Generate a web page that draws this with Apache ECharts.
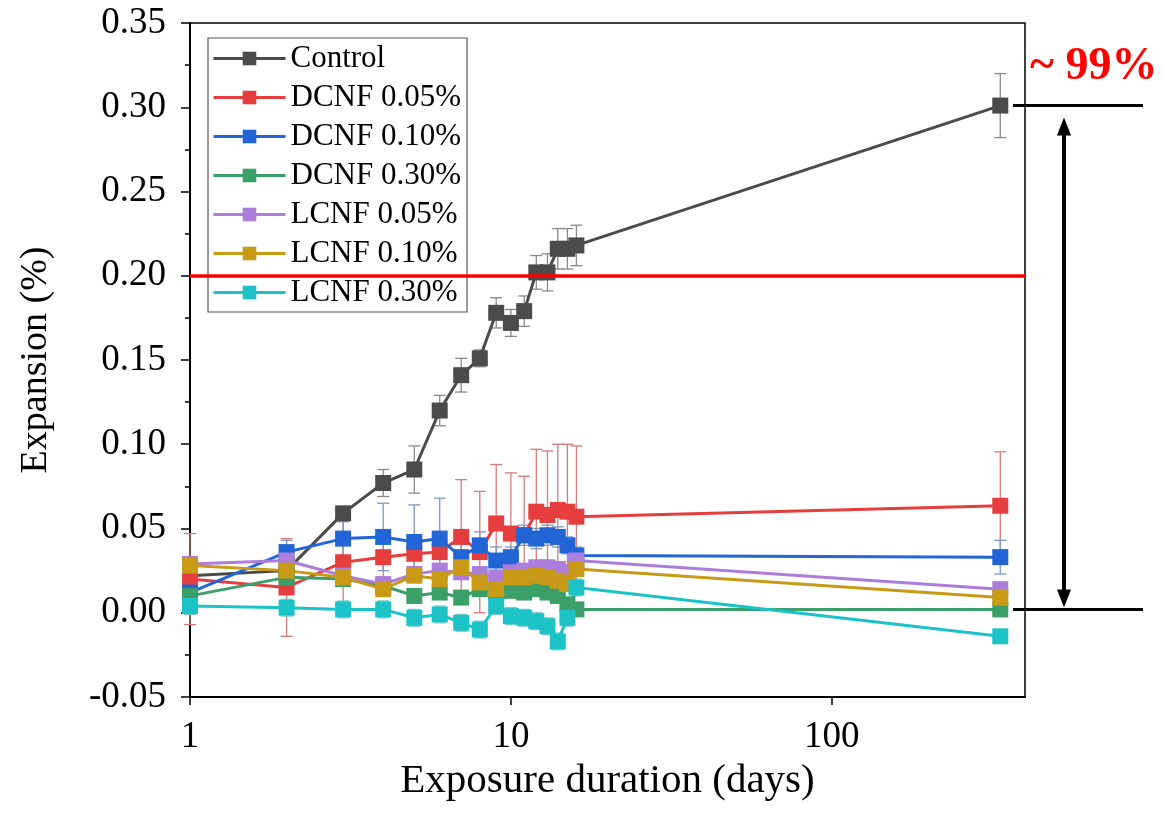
<!DOCTYPE html>
<html>
<head>
<meta charset="utf-8">
<script src="https://cdn.jsdelivr.net/npm/echarts@6/dist/echarts.min.js"></script>
<style>
  html, body { margin: 0; padding: 0; background: #fff; }
  #chart { width: 1163px; height: 815px; }
</style>
</head>
<body>
<div id="chart"></div>
<script>
// exposure days (log axis)
var days = [1, 2, 3, 4, 5, 6, 7, 8, 9, 10, 11, 12, 13, 14, 15, 16, 335];
var xTicks = [1, 10, 100];
var yTicks = [-0.05, 0, 0.05, 0.1, 0.15, 0.2, 0.25, 0.3, 0.35];
var limitLine = 0.2;
var reductionText = '~ 99%';

var names = ['Control', 'DCNF 0.05%', 'DCNF 0.10%', 'DCNF 0.30%', 'LCNF 0.05%', 'LCNF 0.10%', 'LCNF 0.30%'];

var control = [0.022, 0.025, 0.059, 0.077, 0.085, 0.120, 0.141, 0.151, 0.178, 0.172, 0.179, 0.202, 0.202, 0.216, 0.216, 0.218, 0.301];
var dcnf005 = [0.020, 0.015, 0.030, 0.033, 0.035, 0.036, 0.045, 0.036, 0.053, 0.047, 0.046, 0.060, 0.058, 0.061, 0.060, 0.057, 0.0635];
var dcnf010 = [0.012, 0.036, 0.044, 0.045, 0.042, 0.044, 0.033, 0.040, 0.031, 0.033, 0.046, 0.044, 0.046, 0.045, 0.040, 0.034, 0.033];
var dcnf030 = [0.010, 0.021, 0.020, 0.016, 0.010, 0.012, 0.009, 0.014, 0.012, 0.013, 0.012, 0.014, 0.012, 0.010, 0.005, 0.002, 0.002];
var lcnf005 = [0.029, 0.031, 0.022, 0.017, 0.023, 0.025, 0.024, 0.023, 0.021, 0.024, 0.025, 0.027, 0.027, 0.026, 0.024, 0.031, 0.014];
var lcnf010 = [0.028, 0.025, 0.021, 0.014, 0.022, 0.020, 0.027, 0.018, 0.014, 0.021, 0.021, 0.022, 0.021, 0.019, 0.017, 0.026, 0.009];
var lcnf030 = [0.004, 0.003, 0.002, 0.002, -0.003, -0.001, -0.006, -0.010, 0.004, -0.002, -0.003, -0.005, -0.008, -0.017, -0.003, 0.015, -0.014];

// error bar half widths
var controlErr = [0.003, 0.003, 0.004, 0.008, 0.014, 0.009, 0.010, 0.005, 0.009, 0.008, 0.009, 0.010, 0.011, 0.012, 0.012, 0.012, 0.019];
var dcnf005Err = [0.027, 0.029, 0.030, 0.012, 0.010, 0.010, 0.034, 0.036, 0.035, 0.036, 0.035, 0.037, 0.038, 0.039, 0.040, 0.042, 0.032];
var dcnf010Err = [0.004, 0.007, 0.010, 0.020, 0.022, 0.024, 0.008, 0.008, 0.008, 0.006, 0.006, 0.006, 0.006, 0.006, 0.005, 0.005, 0.010];
var dcnf030Err = [0.004, 0.004, 0.004, 0.004, 0.004, 0.004, 0.004, 0.004, 0.004, 0.004, 0.004, 0.004, 0.004, 0.004, 0.004, 0.004, 0.003];
var lcnf005Err = [0.004, 0.004, 0.004, 0.004, 0.004, 0.004, 0.004, 0.004, 0.004, 0.004, 0.004, 0.004, 0.004, 0.004, 0.004, 0.004, 0.004];
var lcnf010Err = [0.004, 0.004, 0.004, 0.004, 0.004, 0.004, 0.004, 0.004, 0.004, 0.004, 0.004, 0.004, 0.004, 0.004, 0.004, 0.004, 0.004];
var lcnf030Err = [0.005, 0.005, 0.005, 0.005, 0.005, 0.005, 0.005, 0.005, 0.005, 0.005, 0.005, 0.005, 0.005, 0.005, 0.005, 0.005, 0.004];

var values = [control, dcnf005, dcnf010, dcnf030, lcnf005, lcnf010, lcnf030];
var errors = [controlErr, dcnf005Err, dcnf010Err, dcnf030Err, lcnf005Err, lcnf010Err, lcnf030Err];
var colors = ['#4b4b4b', '#e63e3e', '#2165d6', '#3a9f68', '#ad7ddc', '#c89a15', '#1cc3c6'];
var errColors = ['#8a8a8a', '#d77a7a', '#7f99c4', '#7fb497', '#bfa3d8', '#c9b06a', '#7cc9cb'];

var FONT = '"Liberation Serif", "Times New Roman", serif';

function errorBarRender(params, api) {
  var x = api.value(0), y = api.value(1), e = api.value(2);
  var top = api.coord([x, y + e]);
  var bot = api.coord([x, y - e]);
  var w = 6;
  var st = { stroke: api.visual('color'), lineWidth: 1.3 };
  return {
    type: 'group',
    children: [
      { type: 'line', shape: { x1: top[0], y1: top[1], x2: bot[0], y2: bot[1] }, style: st },
      { type: 'line', shape: { x1: top[0] - w, y1: top[1], x2: top[0] + w, y2: top[1] }, style: st },
      { type: 'line', shape: { x1: bot[0] - w, y1: bot[1], x2: bot[0] + w, y2: bot[1] }, style: st }
    ]
  };
}

var series = [];
names.forEach(function (n, k) {
  series.push({
    name: n + ' err',
    type: 'custom',
    renderItem: errorBarRender,
    itemStyle: { color: errColors[k] },
    data: days.map(function (d, i) { return [d, values[k][i], errors[k][i]]; }),
    z: 1,
    silent: true
  });
});
names.forEach(function (n, k) {
  var s = {
    name: n,
    type: 'line',
    data: days.map(function (d, i) { return [d, values[k][i]]; }),
    symbol: 'rect',
    symbolSize: 16,
    lineStyle: { width: 3, color: colors[k] },
    itemStyle: { color: colors[k] },
    z: 3
  };
  if (k === 0) {
    s.markLine = {
      silent: true,
      symbol: 'none',
      label: { show: false },
      lineStyle: { color: '#ff0000', width: 3.5, type: 'solid' },
      data: [{ yAxis: limitLine }]
    };
  }
  series.push(s);
});

var chart = echarts.init(document.getElementById('chart'));
chart.setOption({
  animation: false,
  backgroundColor: '#fff',
  grid: { left: 190, right: 138, top: 23, bottom: 118, show: true, borderColor: '#000', borderWidth: 1.5 },
  legend: {
    data: names,
    orient: 'vertical',
    left: 208,
    top: 38,
    itemWidth: 72,
    itemHeight: 17,
    itemGap: 8,
    padding: [5, 6, 4, 4],
    borderColor: '#555',
    borderWidth: 1.2,
    lineStyle: { width: 3 },
    textStyle: { fontFamily: FONT, fontSize: 31, color: '#000' }
  },
  xAxis: {
    type: 'log',
    logBase: 10,
    min: 1,
    max: 400,
    name: 'Exposure duration (days)',
    nameLocation: 'middle',
    nameGap: 64,
    nameTextStyle: { fontFamily: FONT, fontSize: 41, color: '#000' },
    axisLine: { onZero: false, lineStyle: { color: '#000', width: 2 } },
    axisTick: { customValues: xTicks, lineStyle: { color: '#000', width: 1.5 }, length: 8 },
    splitLine: { show: false },
    axisLabel: {
      customValues: xTicks,
      fontFamily: FONT, fontSize: 37, color: '#000', margin: 22,
      formatter: function (v) { return String(Math.round(v)); }
    }
  },
  yAxis: {
    type: 'value',
    min: yTicks[0],
    max: yTicks[yTicks.length - 1],
    interval: 0.05,
    name: 'Expansion (%)',
    nameLocation: 'middle',
    nameGap: 135,
    nameTextStyle: { fontFamily: FONT, fontSize: 38, color: '#000' },
    axisLine: { show: true, lineStyle: { color: '#000', width: 2 } },
    axisTick: { show: true, lineStyle: { color: '#000', width: 1.5 }, length: 9 },
    minorTick: { show: true, splitNumber: 2, length: 5, lineStyle: { color: '#000', width: 1.5 } },
    splitLine: { show: false },
    axisLabel: {
      fontFamily: FONT, fontSize: 37, color: '#000', margin: 24,
      formatter: function (v) { return v.toFixed(2); }
    }
  },
  series: series
});

// right-side reduction annotation, placed from the data through the axes
var yTop = chart.convertToPixel({ gridIndex: 0 }, [days[days.length - 1], control[control.length - 1]])[1];
var yBot = chart.convertToPixel({ gridIndex: 0 }, [days[days.length - 1], dcnf030[dcnf030.length - 1]])[1];
var ax = 1064;
chart.setOption({
  graphic: [
    { type: 'line', shape: { x1: 1013, y1: yTop, x2: 1143, y2: yTop }, style: { stroke: '#000', lineWidth: 3 }, z: 10 },
    { type: 'line', shape: { x1: 1013, y1: yBot, x2: 1143, y2: yBot }, style: { stroke: '#000', lineWidth: 3 }, z: 10 },
    { type: 'line', shape: { x1: ax, y1: yTop + 26, x2: ax, y2: yBot - 16 }, style: { stroke: '#000', lineWidth: 4 }, z: 10 },
    { type: 'polygon', shape: { points: [[ax, yTop + 12], [ax - 7, yTop + 30], [ax + 7, yTop + 30]] }, style: { fill: '#000' }, z: 10 },
    { type: 'polygon', shape: { points: [[ax, yBot - 2], [ax - 7, yBot - 20], [ax + 7, yBot - 20]] }, style: { fill: '#000' }, z: 10 },
    {
      type: 'text', left: 1030, top: 44, z: 10,
      style: { text: reductionText, fill: '#ff0000', font: 'bold 46px ' + FONT }
    }
  ]
});
</script>
</body>
</html>
